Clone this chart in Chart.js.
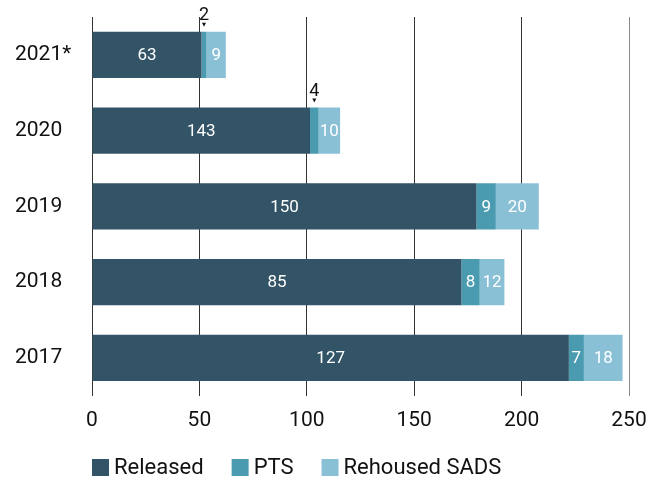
<!DOCTYPE html>
<html lang="en">
<head>
<meta charset="UTF-8">
<title>Released / PTS / Rehoused SADS</title>
<script src="https://cdn.jsdelivr.net/npm/chart.js@4"></script>
<style>
    html, body {
        margin: 0;
        padding: 0;
        background: #fff;
    }
    #wrap {
        width: 665px;
        height: 481px;
    }
</style>
</head>
<body>
<div id="wrap"><canvas id="chart"></canvas></div>
<script>
// Data
const years = ['2021*', '2020', '2019', '2018', '2017'];
const released = [51, 101.5, 179, 172, 222];        // bar lengths as drawn
const releasedLabels = ['63', '143', '150', '85', '127']; // numbers printed on the bars
const pts = [2.3, 4, 9, 8.5, 7];
const ptsLabels = ['2', '4', '9', '8', '7'];
const rehoused = [9, 10, 20, 11.5, 18];
const rehousedLabels = ['9', '10', '20', '12', '18'];
const xTicks = [0, 50, 100, 150, 200, 250];

const FONT = 'Roboto, "DejaVu Sans", sans-serif';
const COLORS = ['#325466', '#4a9bb0', '#8ac0d6'];

// Numbers inside the segments, or above with a small arrow when the segment is too thin
const segmentLabels = {
    id: 'segmentLabels',
    afterDatasetsDraw(chart) {
        const ctx = chart.ctx;
        ctx.save();
        chart.data.datasets.forEach((ds, di) => {
            const meta = chart.getDatasetMeta(di);
            meta.data.forEach((bar, i) => {
                const text = ds.labels[i];
                const w = Math.abs(bar.x - bar.base);
                const cx = (bar.x + bar.base) / 2;
                if (w >= 12) {
                    ctx.fillStyle = '#ffffff';
                    ctx.font = '17px ' + FONT;
                    ctx.textAlign = 'center';
                    ctx.textBaseline = 'middle';
                    ctx.fillText(text, cx, bar.y + 1);
                } else {
                    const top = bar.y - bar.height / 2;
                    ctx.fillStyle = '#111111';
                    ctx.font = '18px ' + FONT;
                    ctx.textAlign = 'center';
                    ctx.textBaseline = 'alphabetic';
                    ctx.fillText(text, cx, top - 12);
                    ctx.beginPath();
                    ctx.moveTo(cx - 2, top - 9);
                    ctx.lineTo(cx + 2, top - 9);
                    ctx.lineTo(cx, top - 5);
                    ctx.closePath();
                    ctx.fill();
                }
            });
        });
        ctx.restore();
    }
};

// Legend drawn at the chart area's left edge
const bottomLegend = {
    id: 'bottomLegend',
    afterDraw(chart) {
        const ctx = chart.ctx;
        const y = 459;
        let x = chart.chartArea.left;
        ctx.save();
        ctx.font = '22px ' + FONT;
        ctx.textBaseline = 'middle';
        ctx.textAlign = 'left';
        chart.data.datasets.forEach(ds => {
            ctx.fillStyle = ds.backgroundColor;
            ctx.fillRect(x, y, 17, 17);
            ctx.fillStyle = '#111111';
            ctx.fillText(ds.label, x + 22, y + 9);
            x += 22 + ctx.measureText(ds.label).width + 28;
        });
        ctx.restore();
    }
};

new Chart(document.getElementById('chart'), {
    type: 'bar',
    data: {
        labels: years,
        datasets: [
            { label: 'Released', data: released, labels: releasedLabels, backgroundColor: COLORS[0] },
            { label: 'PTS', data: pts, labels: ptsLabels, backgroundColor: COLORS[1] },
            { label: 'Rehoused SADS', data: rehoused, labels: rehousedLabels, backgroundColor: COLORS[2] }
        ]
    },
    options: {
        indexAxis: 'y',
        responsive: true,
        maintainAspectRatio: false,
        animation: false,
        layout: {
            padding: { top: 17, left: 15, right: 36, bottom: 36 }
        },
        datasets: {
            bar: {
                categoryPercentage: 1,
                barPercentage: 0.61,
                borderWidth: 0
            }
        },
        scales: {
            x: {
                stacked: true,
                min: 0,
                max: 250,
                afterBuildTicks(scale) {
                    scale.ticks = xTicks.map(v => ({ value: v }));
                },
                border: { display: false },
                grid: {
                    drawTicks: false,
                    color: ctx => (ctx.tick && ctx.tick.value === 250) ? '#8a8a8a' : '#333333',
                    lineWidth: 1
                },
                ticks: {
                    padding: 12,
                    color: '#111111',
                    font: { family: FONT, size: 21 }
                }
            },
            y: {
                stacked: true,
                border: { display: false },
                grid: { display: false },
                afterFit(scale) {
                    scale.width = 77;
                },
                ticks: {
                    crossAlign: 'far',
                    color: '#111111',
                    font: { family: FONT, size: 21 }
                }
            }
        },
        plugins: {
            legend: { display: false },
            tooltip: { enabled: false }
        }
    },
    plugins: [segmentLabels, bottomLegend]
});
</script>
</body>
</html>
